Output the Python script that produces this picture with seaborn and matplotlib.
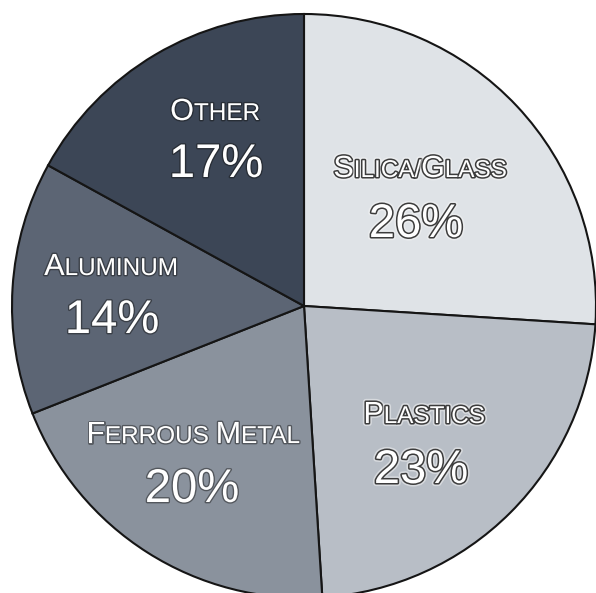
import matplotlib
matplotlib.use('Agg')
import matplotlib.pyplot as plt
import matplotlib.patheffects as pe
import seaborn as sns

# Data
categories = ['Silica/Glass', 'Plastics', 'Ferrous Metal', 'Aluminum', 'Other']
shares = [26, 23, 20, 14, 17]
colors = ['#dfe3e7', '#b8bec6', '#8a929d', '#5c6574', '#3c4656']

# Label layout in pixels from top-left (label centre x, label baseline, pct centre x, pct baseline)
label_pos = [(420, 177), (424, 423), (193, 443), (111, 275), (215, 120)]
pct_pos = [(416, 237), (421, 483), (192, 502), (112, 333), (216, 177)]
outlined = [True, True, False, False, False]

sns.set_theme(style='white')
plt.rcParams['font.family'] = ['Liberation Sans', 'DejaVu Sans']

W, H = 596, 593
fig = plt.figure(figsize=(W / 100, H / 100), dpi=100)
ax = fig.add_axes([0, 0, 1, 1])

ax.pie(shares, colors=colors, startangle=90, counterclock=False,
       center=(304, H - 306), radius=292,
       wedgeprops=dict(edgecolor='#151515', linewidth=1.5))
ax.set_xlim(0, W)
ax.set_ylim(0, H)
ax.set_aspect('auto')
ax.axis('off')

renderer = fig.canvas.get_renderer()

light_fx = [pe.Stroke(linewidth=4.5, foreground='#f6f6f6', alpha=0.5),
            pe.Stroke(linewidth=2.2, foreground='#3c3c3c'), pe.Normal()]
dark_fx = [pe.Stroke(linewidth=2.0, foreground='#111111', alpha=0.45), pe.Normal()]


def small_caps(xc, y, text, big, small, fx):
    # fake small caps: capitals at full size, the rest upper-cased and smaller
    texts = []
    x = 0
    for wi, word in enumerate(text.split(' ')):
        if wi:
            x += small * 1.389 * 0.3
        runs = []
        for ch in word:
            size = big if ch.isupper() else small
            if runs and runs[-1][1] == size:
                runs[-1][0] += ch
            else:
                runs.append([ch, size])
        for run, size in runs:
            t = ax.text(x, y, run.upper(), fontsize=size, ha='left', va='baseline',
                        color='white', path_effects=fx)
            x += t.get_window_extent(renderer).width
            texts.append(t)
    shift = xc - x / 2
    for t in texts:
        px, py = t.get_position()
        t.set_x(px + shift)


for cat, share, (lx, ly), (px, py), out in zip(categories, shares, label_pos, pct_pos, outlined):
    fx = light_fx if out else dark_fx
    small_caps(lx, H - ly, cat, 22, 17.5, fx)
    ax.text(px, H - py, f'{share}%', fontsize=34, ha='center', va='baseline',
            color='white', path_effects=fx)

fig.savefig('out.png', dpi=100, facecolor='white')
